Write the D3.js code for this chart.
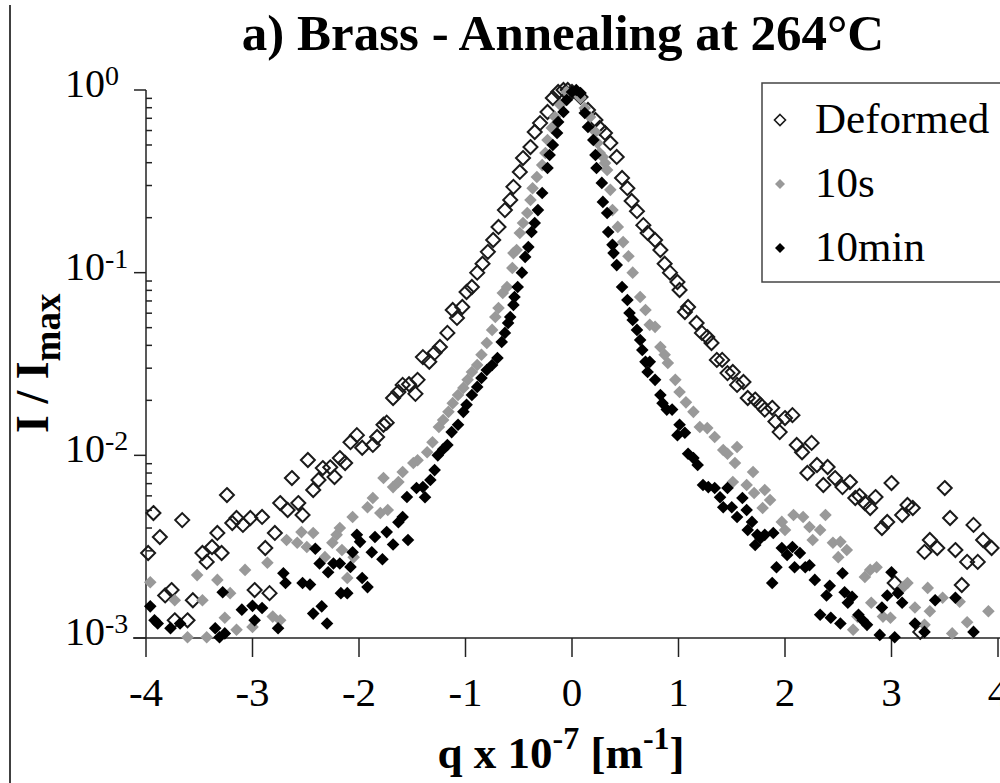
<!DOCTYPE html>
<html><head><meta charset="utf-8">
<script src="https://cdn.jsdelivr.net/npm/d3@7"></script>
<style>body{margin:0;background:#fff} svg{display:block}</style>
</head><body>
<svg id="c" width="1000" height="783"></svg>
<script>
// ---------- DATA ----------
const seriesNames = ["Deformed", "10s", "10min"];
const titleText = "a) Brass - Annealing at 264°C";
const xTicks = [-4, -3, -2, -1, 0, 1, 2, 3, 4];
const xTickLabels = ["-4", "-3", "-2", "-1", "0", "1", "2", "3", "4"];
const yTicks = [1, 0.1, 0.01, 0.001];
const yTickExponents = ["0", "-1", "-2", "-3"];

const qDeformed = [-3.98,-3.93,-3.87,-3.82,-3.76,-3.73,-3.66,-3.61,-3.56,-3.47,-3.43,-3.38,-3.33,-3.29,-3.24,-3.19,-3.15,-3.09,-3.02,-2.98,
 -2.91,-2.88,-2.84,-2.79,-2.74,-2.67,-2.63,-2.57,-2.53,-2.48,-2.43,-2.38,-2.34,-2.27,-2.23,-2.18,-2.13,-2.08,-2.02,-1.97,
 -1.87,-1.83,-1.77,-1.74,-1.68,-1.63,-1.59,-1.53,-1.47,-1.45,-1.40,-1.34,-1.29,-1.24,-1.17,-1.12,-1.08,-1.03,-0.99,-0.94,
 -0.89,-0.84,-0.79,-0.74,-0.69,-0.63,-0.58,-0.55,-0.49,-0.46,-0.39,-0.35,-0.30,-0.23,-0.18,-0.13,-0.08,-0.04,0.00,0.08,
 0.15,0.22,0.26,0.31,0.36,0.42,0.47,0.52,0.56,0.61,0.67,0.71,0.78,0.83,0.87,0.92,0.99,1.01,1.06,1.09,
 1.17,1.22,1.27,1.31,1.36,1.41,1.46,1.51,1.55,1.61,1.65,1.72,1.77,1.81,1.88,1.91,1.95,2.00,2.07,2.11,
 2.16,2.21,2.25,2.30,2.36,2.40,2.47,2.54,2.61,2.66,2.70,2.75,2.80,2.85,2.91,2.96,3.00,3.03,3.10,3.15,
 3.20,3.27,3.31,3.36,3.43,3.50,3.55,3.60,3.66,3.71,3.77,3.81,3.86,3.94];
const iDeformed = [0.00292,0.00483,0.00357,0.00171,0.00183,0.00125,0.00442,0.00125,0.00161,0.00292,0.00261,0.00315,0.00376,0.00292,0.00606,0.00426,0.00454,0.00416,0.00454,0.00183,
 0.0046,0.00311,0.00176,0.00376,0.00548,0.00502,0.00751,0.00548,0.00471,0.00943,0.00646,0.00733,0.00852,0.0086,0.00761,0.00966,0.00908,0.0118,0.0129,0.0110,
 0.0114,0.0126,0.0147,0.0151,0.0206,0.0222,0.0243,0.0245,0.0217,0.0259,0.0345,0.0325,0.0364,0.0392,0.0468,0.0625,0.0565,0.0649,0.0784,0.0835,
 0.100,0.112,0.130,0.151,0.178,0.220,0.250,0.295,0.356,0.424,0.487,0.589,0.659,0.758,0.904,0.975,1.0,1.0,0.975,0.916,
 0.777,0.685,0.620,0.582,0.513,0.430,0.330,0.290,0.247,0.217,0.182,0.165,0.151,0.133,0.112,0.100,0.0889,0.0804,0.0609,0.0649,
 0.053,0.0468,0.0444,0.0412,0.0333,0.0333,0.0282,0.0286,0.0243,0.0252,0.0206,0.0202,0.0189,0.0178,0.0182,0.0153,0.0134,0.016,0.0166,0.0114,
 0.0104,0.008,0.0117,0.00885,0.00688,0.00863,0.00751,0.0067,0.00714,0.00584,0.006,0.00548,0.00515,0.00591,0.004,0.00432,0.00705,0.002,0.00471,0.00535,
 0.00515,0.00108,0.00296,0.00344,0.00311,0.00662,0.00454,0.00303,0.00195,0.00261,0.00416,0.00261,0.00344,0.00311];

const q10s = [-3.96,-3.73,-3.61,-3.52,-3.47,-3.43,-3.33,-3.26,-3.21,-3.15,-3.07,-3.00,-2.86,-2.81,-2.74,-2.68,-2.58,-2.54,-2.49,-2.43,
 -2.32,-2.25,-2.21,-2.18,-2.16,-2.11,-2.06,-2.05,-1.92,-1.87,-1.80,-1.77,-1.73,-1.68,-1.63,-1.59,-1.49,-1.45,-1.36,-1.31,
 -1.25,-1.21,-1.16,-1.12,-1.07,-1.02,-0.98,-0.94,-0.89,-0.85,-0.80,-0.75,-0.72,-0.69,-0.65,-0.61,-0.56,-0.55,-0.52,-0.49,
 -0.46,-0.42,-0.39,-0.37,-0.33,-0.28,-0.25,-0.23,-0.19,-0.16,-0.11,-0.05,0.03,0.08,0.12,0.17,0.22,0.24,0.26,0.29,
 0.31,0.33,0.36,0.38,0.43,0.48,0.53,0.57,0.64,0.69,0.73,0.78,0.83,0.87,0.90,0.97,1.01,1.07,1.14,1.20,
 1.27,1.34,1.42,1.46,1.51,1.53,1.55,1.64,1.70,1.71,1.79,1.81,1.86,1.97,2.00,2.08,2.17,2.23,2.26,2.33,
 2.38,2.45,2.50,2.52,2.58,2.64,2.68,2.75,2.80,2.81,2.86,2.92,2.99,3.11,3.15,3.22,3.31,3.34,3.36,3.48,
 3.57,3.64,3.71,3.91];
const i10s = [0.00202,0.00161,0.00101,0.00221,0.00161,0.00101,0.00208,0.00129,0.00176,0.00111,0.00236,0.00115,0.00258,0.00131,0.00125,0.00344,0.00332,0.0038,0.00315,0.00376,
 0.00277,0.00332,0.00367,0.004,0.00303,0.00213,0.0046,0.00277,0.0052,0.00584,0.00483,0.00751,0.00502,0.0067,0.00714,0.0081,0.00908,0.0094,0.0104,0.0118,
 0.0143,0.0156,0.0173,0.0193,0.0214,0.0234,0.0259,0.0286,0.0312,0.0355,0.0412,0.0486,0.0572,0.0641,0.0774,0.0835,0.106,0.128,0.133,0.165,
 0.187,0.212,0.25,0.29,0.334,0.388,0.452,0.532,0.62,0.711,0.828,0.975,0.975,0.904,0.797,0.711,0.589,0.513,0.452,0.43,
 0.398,0.365,0.284,0.22,0.178,0.147,0.123,0.1,0.0736,0.0625,0.0518,0.0505,0.0392,0.0355,0.032,0.0259,0.0222,0.0195,0.0173,0.0143,
 0.0141,0.0126,0.0107,0.0102,0.00714,0.00908,0.0111,0.00688,0.0081,0.00622,0.00515,0.00646,0.00569,0.00432,0.0039,0.00471,0.0046,0.00405,0.00344,0.0039,
 0.00471,0.00332,0.00277,0.00336,0.00303,0.00111,0.00131,0.00216,0.00236,0.00156,0.00244,0.00131,0.00129,0.0019,0.002,0.00147,0.00118,0.00188,0.0014,0.00166,
 0.00106,0.00158,0.00122,0.0014];

const q10min = [-3.96,-3.92,-3.89,-3.77,-3.68,-3.35,-3.31,-3.28,-3.26,-3.10,-3.00,-2.98,-2.91,-2.76,-2.71,-2.69,-2.53,-2.46,-2.43,-2.41,
 -2.37,-2.35,-2.30,-2.29,-2.24,-2.18,-2.17,-2.11,-2.08,-2.06,-2.02,-1.99,-1.97,-1.92,-1.88,-1.85,-1.78,-1.74,-1.68,-1.63,
 -1.59,-1.55,-1.54,-1.46,-1.40,-1.38,-1.33,-1.29,-1.26,-1.21,-1.17,-1.13,-1.07,-1.02,-0.99,-0.94,-0.89,-0.85,-0.80,-0.75,
 -0.70,-0.66,-0.63,-0.60,-0.58,-0.55,-0.54,-0.51,-0.47,-0.44,-0.41,-0.38,-0.35,-0.32,-0.28,-0.23,-0.21,-0.18,-0.14,-0.13,
 -0.08,-0.05,0.00,0.04,0.08,0.12,0.15,0.20,0.22,0.23,0.28,0.29,0.33,0.34,0.38,0.39,0.42,0.47,0.52,0.54,
 0.57,0.61,0.64,0.66,0.69,0.71,0.73,0.78,0.83,0.85,0.89,0.94,0.99,1.01,1.06,1.09,1.14,1.18,1.23,1.28,
 1.34,1.39,1.42,1.46,1.50,1.55,1.60,1.64,1.65,1.69,1.72,1.74,1.77,1.81,1.88,1.89,1.92,1.97,2.02,2.07,
 2.09,2.14,2.19,2.23,2.28,2.33,2.39,2.42,2.43,2.52,2.54,2.56,2.59,2.63,2.69,2.73,2.77,2.89,2.91,2.96,
 3.00,3.03,3.06,3.10,3.22,3.31,3.41,3.60,3.77];
const i10min = [0.00149,0.00125,0.0012,0.00113,0.0012,0.00113,0.00101,0.00178,0.00106,0.00143,0.0015,0.00125,0.00146,0.00113,0.00226,0.002,0.002,0.00196,0.00136,0.00308,
 0.00256,0.00149,0.0012,0.00229,0.00256,0.00256,0.00176,0.00176,0.00245,0.00295,0.00367,0.00336,0.00213,0.0019,0.00295,0.00357,0.0027,0.0038,0.00325,0.0043,
 0.0046,0.00591,0.00344,0.00662,0.0067,0.0059,0.00733,0.0083,0.01,0.0108,0.0114,0.0134,0.0147,0.0173,0.0189,0.0214,0.0237,0.0265,0.0293,0.0312,
 0.0341,0.0417,0.0468,0.053,0.0572,0.0666,0.0736,0.0835,0.1,0.122,0.138,0.167,0.187,0.22,0.273,0.374,0.441,0.5,0.582,0.668,
 0.758,0.882,0.975,1.0,0.963,0.748,0.627,0.532,0.441,0.374,0.31,0.244,0.212,0.167,0.142,0.128,0.11,0.0835,0.0709,0.0602,
 0.0551,0.0486,0.0428,0.0377,0.0325,0.0286,0.0325,0.0259,0.0214,0.0193,0.0178,0.0178,0.0129,0.0147,0.0133,0.0102,0.00966,0.00885,0.00688,0.0067,
 0.00662,0.0059,0.0052,0.00662,0.0052,0.0046,0.00584,0.00502,0.0039,0.00432,0.00323,0.00367,0.00352,0.00367,0.002,0.00376,0.00244,0.00311,0.00285,0.00315,
 0.00244,0.00292,0.00244,0.0025,0.00208,0.00134,0.00171,0.00193,0.00129,0.0012,0.00226,0.00178,0.00156,0.00168,0.00134,0.00125,0.00118,0.00104,0.00147,0.00171,
 0.00229,0.00101,0.00176,0.00156,0.0012,0.00108,0.00161,0.00166,0.00108];

// ---------- DRAWING ----------
const svg = d3.select("#c");
const serif = "'Liberation Serif','Times New Roman',serif";
const x = d3.scaleLinear().domain([-4, 4]).range([146, 998]);
const y = d3.scaleLog().domain([1e-3, 1]).range([638, 90]);

svg.append("rect").attr("width", 1000).attr("height", 783).attr("fill", "#fff");

// left frame line
svg.append("line").attr("x1", 10).attr("x2", 10).attr("y1", 5).attr("y2", 783)
  .attr("stroke", "#000").attr("stroke-width", 1.5);

// title
svg.append("text").attr("x", 563).attr("y", 50).attr("text-anchor", "middle")
  .attr("font-family", serif).attr("font-weight", "bold").attr("font-size", 51)
  .text(titleText);

const axisG = svg.append("g").attr("stroke", "#222").attr("stroke-width", 1.5);
axisG.append("line").attr("x1", x(-4)).attr("x2", x(-4)).attr("y1", y(1)).attr("y2", y(1e-3));
axisG.append("line").attr("x1", 133).attr("x2", 1000).attr("y1", y(1e-3)).attr("y2", y(1e-3));
axisG.selectAll(".ymaj").data(yTicks).join("line")
  .attr("x1", 134).attr("x2", x(-4)).attr("y1", d => y(d)).attr("y2", d => y(d));
const minorTicks = y.ticks().filter(v => Math.abs(Math.log10(v) - Math.round(Math.log10(v))) > 1e-6);
axisG.selectAll(".ymin").data(minorTicks).join("line")
  .attr("x1", x(-4)).attr("x2", x(-4) + 6).attr("y1", d => y(d)).attr("y2", d => y(d));
axisG.selectAll(".xt").data(xTicks).join("line")
  .attr("x1", d => x(d)).attr("x2", d => x(d)).attr("y1", y(1e-3)).attr("y2", y(1e-3) + 19);

// x tick labels
svg.selectAll(".xl").data(xTicks).join("text")
  .attr("x", d => x(d)).attr("y", 706).attr("text-anchor", "middle")
  .attr("font-family", serif).attr("font-size", 41)
  .text((d, i) => xTickLabels[i]);

// y tick labels
const yl = svg.selectAll(".yl").data(yTicks).join("text")
  .attr("x", 65).attr("y", d => y(d) + 7)
  .attr("font-family", serif).attr("font-size", 40);
yl.append("tspan").text("10");
yl.append("tspan").attr("font-size", 28).attr("dy", -12).text((d, i) => yTickExponents[i]);

// y axis title
const yt = svg.append("text").attr("transform", "translate(48,433) rotate(-90)")
  .attr("font-family", serif).attr("font-weight", "bold").attr("font-size", 46);
yt.append("tspan").text("I / I");
yt.append("tspan").attr("font-size", 37).attr("dy", 12).text("max");

// x axis title
const xt = svg.append("text").attr("x", 561).attr("y", 768).attr("text-anchor", "middle")
  .attr("font-family", serif).attr("font-weight", "bold").attr("font-size", 45);
xt.append("tspan").text("q x 10");
xt.append("tspan").attr("font-size", 32).attr("dy", -19).text("-7");
xt.append("tspan").attr("dy", 19).text(" [m");
xt.append("tspan").attr("font-size", 32).attr("dy", -19).text("-1");
xt.append("tspan").attr("dy", 19).text("]");

// markers
const diamond = r => `M0,${-r}L${r},0L0,${r}L${-r},0Z`;
function drawSeries(qs, vals, style) {
  const pts = qs.map((q, i) => ({ q, v: vals[i] }));
  svg.append("g").selectAll("path").data(pts).join("path")
    .attr("transform", d => `translate(${x(d.q)},${y(d.v)})`)
    .attr("d", diamond(style.r))
    .attr("fill", style.fill).attr("stroke", style.stroke).attr("stroke-width", style.sw);
}
const styles = [
  { r: 7, fill: "none", stroke: "#1a1a1a", sw: 2 },
  { r: 6.3, fill: "#999999", stroke: "none", sw: 0 },
  { r: 6.3, fill: "#000000", stroke: "none", sw: 0 }
];
drawSeries(qDeformed, iDeformed, styles[0]);
drawSeries(q10s, i10s, styles[1]);
drawSeries(q10min, i10min, styles[2]);

// legend
svg.append("rect").attr("x", 762).attr("y", 83).attr("width", 250).attr("height", 199)
  .attr("fill", "#fff").attr("stroke", "#444").attr("stroke-width", 1.5);
const legY = [120, 184, 248];
const legStyles = [
  { r: 5.5, fill: "none", stroke: "#1a1a1a", sw: 1.6 },
  { r: 5, fill: "#999999", stroke: "none", sw: 0 },
  { r: 5, fill: "#000000", stroke: "none", sw: 0 }
];
seriesNames.forEach((name, i) => {
  const s = legStyles[i];
  svg.append("path").attr("transform", `translate(780,${legY[i]})`).attr("d", diamond(s.r))
    .attr("fill", s.fill).attr("stroke", s.stroke).attr("stroke-width", s.sw);
  svg.append("text").attr("x", 815).attr("y", legY[i] + 13)
    .attr("font-family", serif).attr("font-size", 43).text(name);
});
</script>
</body></html>
